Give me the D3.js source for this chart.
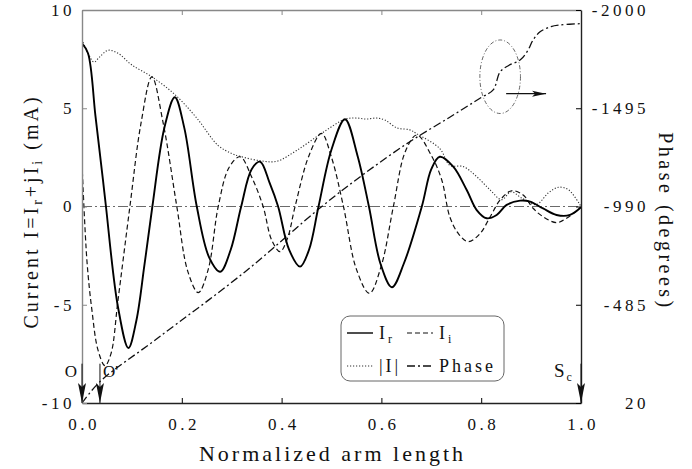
<!DOCTYPE html>
<html lang="en">
  <head>
    <meta charset="UTF-8" />
    <title>Current distribution along arm</title>
    <style>
      body { margin: 0; background: #fff; }
      svg text { font-family: "Liberation Serif", "Times New Roman", serif; fill: #111; }
      .tick text { font-size: 17px; letter-spacing: 3.5px; }
    </style>
  </head>
  <body>
    <script src="https://cdn.jsdelivr.net/npm/d3@7"></script>
    <script>
      // values, [normalized length, value]
      var irData = [[0,8.3],[0.012,7.8],[0.027,4.6],[0.042,1.35],[0.048,0],[0.072,-5.1],[0.093,-7.2],
        [0.109,-5.8],[0.125,-3.0],[0.141,0],[0.165,4.0],[0.186,5.56],[0.205,4.0],[0.23,0],[0.255,-2.6],
        [0.277,-3.32],[0.298,-2.2],[0.319,0],[0.34,1.9],[0.357,2.28],[0.376,1.2],[0.393,0],[0.415,-2.2],
        [0.437,-3.06],[0.455,-2.2],[0.474,0],[0.50,2.9],[0.527,4.44],[0.552,2.6],[0.575,0],[0.598,-2.9],
        [0.621,-4.11],[0.645,-2.9],[0.681,0],[0.70,1.9],[0.717,2.53],[0.744,2.03],[0.771,0.84],
        [0.791,-0.18],[0.811,-0.6],[0.831,-0.43],[0.851,0.08],[0.878,0.3],[0.898,0.25],[0.924,-0.1],
        [0.951,-0.43],[0.978,-0.43],[1.0,-0.04]];
      var iiData = [[0,2.2],[0.01,-2.8],[0.02,-5.3],[0.032,-7.3],[0.046,-8.1],[0.058,-7.5],[0.072,-4.8],
        [0.096,0],[0.118,4.2],[0.140,6.6],[0.163,4.2],[0.19,0],[0.212,-3.3],[0.233,-4.38],[0.253,-3.2],
        [0.273,0],[0.295,2.0],[0.317,2.53],[0.34,1.5],[0.363,0],[0.38,-1.7],[0.397,-2.3],[0.412,-1.6],
        [0.427,0],[0.455,2.6],[0.480,3.72],[0.50,2.5],[0.524,0],[0.55,-3.2],[0.576,-4.42],[0.60,-3.0],
        [0.624,0],[0.648,2.8],[0.671,3.64],[0.70,2.6],[0.721,1.35],[0.737,-0.52],[0.754,-1.37],
        [0.774,-1.79],[0.798,-1.37],[0.818,-0.52],[0.838,0.33],[0.861,0.8],[0.884,0.59],[0.904,-0.09],
        [0.924,-0.52],[0.951,-0.82],[0.971,-0.6],[1.0,-0.04]];
      var magData = [[0,8.5],[0.012,7.8],[0.024,7.35],[0.035,7.6],[0.052,7.95],[0.072,7.8],[0.1,7.2],
        [0.14,6.6],[0.186,5.7],[0.23,4.5],[0.273,3.1],[0.3,2.7],[0.317,2.55],[0.357,2.33],[0.39,2.3],
        [0.43,2.85],[0.48,3.72],[0.527,4.44],[0.55,4.5],[0.57,4.45],[0.59,4.5],[0.607,4.4],[0.631,4.0],
        [0.657,3.9],[0.671,3.7],[0.717,2.95],[0.737,2.1],[0.764,2.03],[0.791,1.52],[0.818,0.84],
        [0.841,0.35],[0.86,0.75],[0.88,0.45],[0.91,0.1],[0.935,0.7],[0.955,0.98],[0.975,0.85],[1.0,0.0]];
      var phaseData = [[0,20],[0.036,-90],[0.15,-310],[0.327,-655],[0.48,-989],[0.567,-1161],
        [0.657,-1323],[0.737,-1449],[0.80,-1550],[0.824,-1589],[0.838,-1683],[0.855,-1715],
        [0.878,-1743],[0.893,-1790],[0.904,-1846],[0.918,-1888],[0.94,-1915],[0.958,-1923],[1.0,-1930]];

      var xTicks = [0, 0.2, 0.4, 0.6, 0.8, 1.0];
      var yTicks = [-10, -5, 0, 5, 10];
      var phaseTicks = [-2000, -1495, -990, -485, 20];

      var markers = [[0, "O"], [0.036, "O'"]];

      var w = 692, h = 469;
      var margin = { top: 10, right: 111, bottom: 66, left: 82 };

      var svg = d3.select("body").append("svg")
                  .attr("width", w)
                  .attr("height", h);

      var x = d3.scaleLinear().domain([0, 1]).range([margin.left, w - margin.right]);
      var y = d3.scaleLinear().domain([-10, 10]).range([h - margin.bottom, margin.top]);
      var yP = d3.scaleLinear().domain([20, -2000]).range([h - margin.bottom, margin.top]);

      var plain = function(d) { return String(d); };  // ascii hyphen, no grouping

      var defs = svg.append("defs");
      defs.append("clipPath").attr("id", "plot")
          .append("rect")
          .attr("x", x(0)).attr("y", y(10))
          .attr("width", x(1) - x(0)).attr("height", y(-10) - y(10));
      defs.append("marker").attr("id", "tall")
          .attr("viewBox", "0 -4 20 8").attr("refX", 20).attr("refY", 0)
          .attr("markerUnits", "userSpaceOnUse")
          .attr("markerWidth", 20).attr("markerHeight", 8)
          .attr("orient", "auto")
          .append("path").attr("d", "M0,-4L20,0L0,4L4,0Z").attr("fill", "#111");
      defs.append("marker").attr("id", "short")
          .attr("viewBox", "0 -4 14 8").attr("refX", 14).attr("refY", 0)
          .attr("markerUnits", "userSpaceOnUse")
          .attr("markerWidth", 14).attr("markerHeight", 8)
          .attr("orient", "auto")
          .append("path").attr("d", "M0,-3L14,0L0,3L3,0Z").attr("fill", "#111");

      // zero line
      svg.append("line")
         .attr("x1", x(0)).attr("x2", x(1))
         .attr("y1", y(0)).attr("y2", y(0))
         .attr("stroke", "#444").attr("stroke-width", 0.8)
         .attr("stroke-dasharray", "10,3,2,3");

      function lineFor(scale) {
        return d3.line()
                 .x(function(d) { return x(d[0]); })
                 .y(function(d) { return scale(d[1]); })
                 .curve(d3.curveCatmullRom.alpha(0.5));
      }

      var series = [
        { data: phaseData, scale: yP, dash: "8,3,2,3", width: 1.3, color: "#111" },
        { data: magData, scale: y, dash: "1.2,1.8", width: 1.1, color: "#333" },
        { data: iiData, scale: y, dash: "5,3", width: 1.2, color: "#111" },
        { data: irData, scale: y, dash: null, width: 1.9, color: "#000" }
      ];

      var g = svg.append("g").attr("clip-path", "url(#plot)");
      series.forEach(function(s) {
        g.append("path")
         .datum(s.data)
         .attr("d", lineFor(s.scale))
         .attr("fill", "none")
         .attr("stroke", s.color)
         .attr("stroke-width", s.width)
         .attr("stroke-dasharray", s.dash);
      });

      // axes, ticks pointing inward
      var xAxis = svg.append("g")
         .attr("transform", "translate(0," + y(-10) + ")")
         .call(d3.axisBottom(x).tickValues(xTicks).tickFormat(d3.format(".1f"))
                 .tickSizeInner(-5).tickSizeOuter(0).tickPadding(15));
      xAxis.selectAll("text").attr("dx", "1.7px");
      xAxis.select(".domain").attr("stroke", "#222");

      var topAxis = svg.append("g")
         .attr("transform", "translate(0," + y(10) + ")")
         .call(d3.axisTop(x).tickValues([0.2, 0.4, 0.6, 0.8]).tickFormat("")
                 .tickSizeInner(-5).tickSizeOuter(0));
      topAxis.selectAll(".domain, .tick line").attr("stroke", "#888");

      var leftAxis = svg.append("g")
         .attr("transform", "translate(" + x(0) + ",0)")
         .call(d3.axisLeft(y).tickValues(yTicks).tickFormat(plain)
                 .tickSizeInner(-5).tickSizeOuter(0).tickPadding(7));
      leftAxis.selectAll(".domain, .tick line").attr("stroke", "#888");

      var rightAxis = svg.append("g")
         .attr("transform", "translate(" + x(1) + ",0)")
         .call(d3.axisRight(yP).tickValues(phaseTicks).tickFormat(plain)
                 .tickSizeInner(-5).tickSizeOuter(0));
      rightAxis.selectAll(".tick text").attr("text-anchor", "end").attr("x", 68);
      rightAxis.select(".domain").attr("stroke", "#222");

      svg.selectAll(".domain").attr("stroke-width", 1.4);

      // axis titles
      svg.append("text")
         .attr("x", (x(0) + x(1)) / 2 + 1)
         .attr("y", 461)
         .attr("text-anchor", "middle")
         .attr("font-size", 22)
         .attr("letter-spacing", 3)
         .text("Normalized arm length");

      var yt = svg.append("text")
         .attr("transform", "translate(38," + (y(0) + 5) + ") rotate(-90)")
         .attr("text-anchor", "middle")
         .attr("font-size", 20)
         .attr("letter-spacing", 3);
      yt.append("tspan").text("Current I=I");
      yt.append("tspan").attr("font-size", 14).attr("dy", 4).text("r");
      yt.append("tspan").attr("dy", -4).text("+jI");
      yt.append("tspan").attr("font-size", 14).attr("dy", 4).text("i");
      yt.append("tspan").attr("dy", -4).text(" (mA)");

      svg.append("text")
         .attr("transform", "translate(659," + (yP(-990) + 15) + ") rotate(90)")
         .attr("text-anchor", "middle")
         .attr("font-size", 20)
         .attr("letter-spacing", 3.5)
         .text("Phase (degrees)");

      // start markers O and O'
      markers.forEach(function(m) {
        svg.append("line")
           .attr("x1", x(m[0])).attr("x2", x(m[0]))
           .attr("y1", y(-8)).attr("y2", y(-10))
           .attr("stroke", "#111").attr("stroke-width", 1)
           .attr("marker-end", "url(#tall)");
      });
      svg.append("text").attr("x", x(0) - 11).attr("y", y(-8.68))
         .attr("text-anchor", "middle").attr("font-size", 17).text(markers[0][1]);
      svg.append("text").attr("x", x(0.036) + 3).attr("y", y(-8.68))
         .attr("font-size", 17).text(markers[1][1]);

      // S_c marker at the arm end
      svg.append("line")
         .attr("x1", x(1)).attr("x2", x(1))
         .attr("y1", y(-8)).attr("y2", y(-10))
         .attr("stroke", "#111").attr("stroke-width", 1)
         .attr("marker-end", "url(#tall)");
      var sc = svg.append("text").attr("x", x(1) - 27).attr("y", y(-8.68)).attr("font-size", 19);
      sc.append("tspan").text("S");
      sc.append("tspan").attr("font-size", 12).attr("dy", 4).attr("dx", 2).text("c");

      // ellipse around the phase steps, with arrow to the right axis
      svg.append("ellipse")
         .attr("cx", x(0.838)).attr("cy", yP(-1657))
         .attr("rx", x(0.8787) - x(0.838))
         .attr("ry", yP(-1657) - yP(-1846))
         .attr("fill", "none").attr("stroke", "#555")
         .attr("stroke-width", 0.9).attr("stroke-dasharray", "4,2,1,2");
      svg.append("line")
         .attr("x1", x(0.85)).attr("x2", x(0.93))
         .attr("y1", yP(-1570)).attr("y2", yP(-1570))
         .attr("stroke", "#111").attr("stroke-width", 1.1)
         .attr("marker-end", "url(#short)");

      // legend
      var lg = svg.append("g").attr("transform", "translate(341,316)");
      lg.append("rect")
        .attr("width", 163).attr("height", 65).attr("rx", 9)
        .attr("fill", "#fff").attr("stroke", "#666").attr("stroke-width", 1);
      var items = [
        { s: series[3], x: 6, y: 17, label: "I", sub: "r" },
        { s: series[2], x: 66, y: 17, label: "I", sub: "i" },
        { s: series[1], x: 6, y: 50, label: "|I|", sub: null },
        { s: series[0], x: 66, y: 50, label: "Phase", sub: null }
      ];
      items.forEach(function(it) {
        lg.append("line")
          .attr("x1", it.x).attr("x2", it.x + 26)
          .attr("y1", it.y).attr("y2", it.y)
          .attr("stroke", it.s.color).attr("stroke-width", Math.min(it.s.width, 1.4))
          .attr("stroke-dasharray", it.s.dash);
        var t = lg.append("text").attr("x", it.x + 32).attr("y", it.y + 6)
          .attr("font-size", 18).attr("letter-spacing", 3);
        t.append("tspan").text(it.label);
        if (it.sub) t.append("tspan").attr("font-size", 12).attr("dy", 4).text(it.sub);
      });
    </script>
  </body>
</html>
